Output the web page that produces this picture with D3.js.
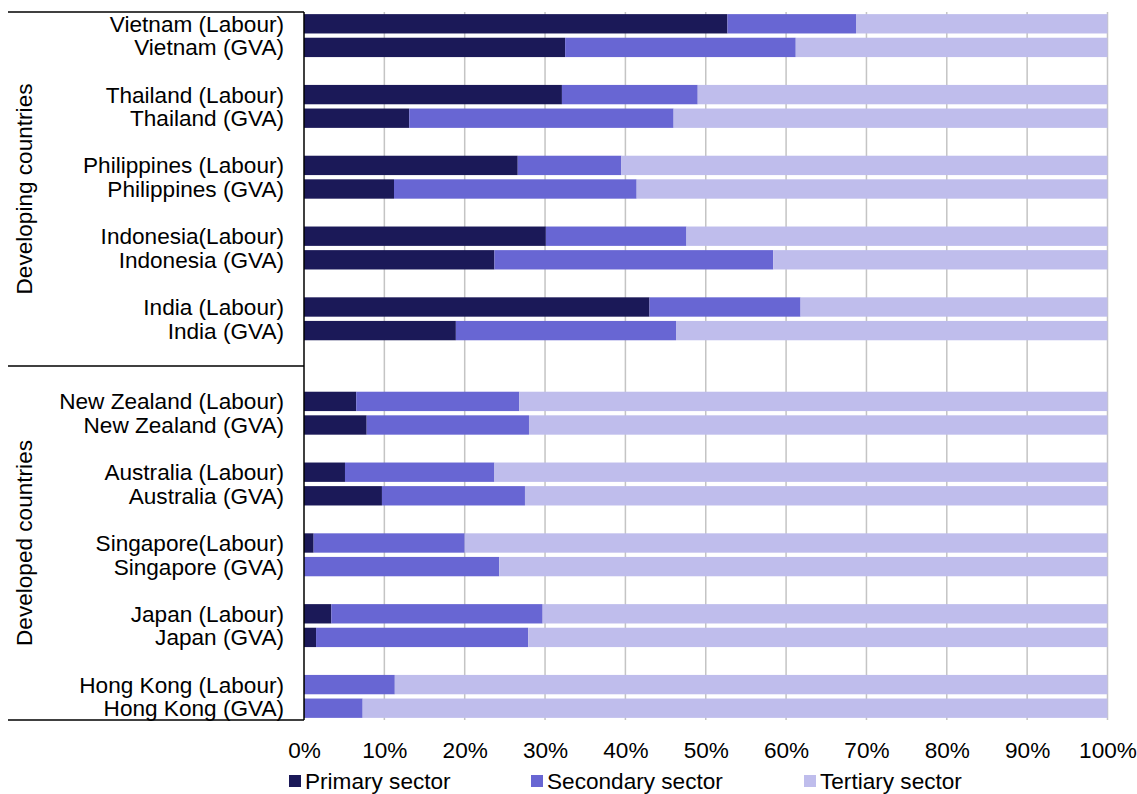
<!DOCTYPE html>
<html>
<head>
<meta charset="utf-8">
<script src="https://cdn.jsdelivr.net/npm/d3@7"></script>
<style>
  html, body { margin: 0; padding: 0; background: #fff; }
  svg { display: block; font-family: "Liberation Sans", Arial, sans-serif; }
</style>
</head>
<body>
<svg id="chart" width="1137" height="794"></svg>
<script>
// ---- data ----
const categories = [
  "Vietnam (Labour)", "Vietnam (GVA)",
  "Thailand (Labour)", "Thailand (GVA)",
  "Philippines (Labour)", "Philippines (GVA)",
  "Indonesia(Labour)", "Indonesia (GVA)",
  "India (Labour)", "India (GVA)",
  "New Zealand (Labour)", "New Zealand (GVA)",
  "Australia (Labour)", "Australia (GVA)",
  "Singapore(Labour)", "Singapore (GVA)",
  "Japan (Labour)", "Japan (GVA)",
  "Hong Kong (Labour)", "Hong Kong (GVA)"
];
const groups = ["Developing countries", "Developing countries", "Developing countries", "Developing countries", "Developing countries",
                "Developing countries", "Developing countries", "Developing countries", "Developing countries", "Developing countries",
                "Developed countries", "Developed countries", "Developed countries", "Developed countries", "Developed countries",
                "Developed countries", "Developed countries", "Developed countries", "Developed countries", "Developed countries"];
const groupNames = ["Developing countries", "Developed countries"];
const primary   = [52.7, 32.5, 32.1, 13.1, 26.6, 11.2, 30.1, 23.7, 43.0, 18.9,  6.5,  7.8,  5.1,  9.7,  1.2,  0.0,  3.4,  1.5,  0.1,  0.1];
const secondary = [16.0, 28.7, 16.9, 32.9, 12.9, 30.2, 17.5, 34.7, 18.8, 27.4, 20.3, 20.2, 18.6, 17.8, 18.8, 24.3, 26.3, 26.4, 11.2,  7.2];
const tertiary  = [31.3, 38.8, 51.0, 54.0, 60.5, 58.6, 52.4, 41.6, 38.2, 53.7, 73.2, 72.0, 76.3, 72.5, 80.0, 75.7, 70.3, 72.1, 88.7, 92.7];
const seriesNames = ["Primary sector", "Secondary sector", "Tertiary sector"];
const tickValues = [0, 10, 20, 30, 40, 50, 60, 70, 80, 90, 100];

// ---- layout ----
const colors = ["#1b1958", "#6866d3", "#bfbdec"];
const svg = d3.select("#chart");
const pLeft = 304, pRight = 1107.5, pTop = 12, pBottom = 720;
const fontSize = 22.6;

// slot domain: pairs separated by blank slots; two blanks between the groups
const slots = [];
categories.forEach((c, i) => {
  slots.push(c);
  if (i % 2 === 1 && i < categories.length - 1) {
    slots.push("gap" + i);
    if (groups[i] !== groups[i + 1]) slots.push("gap" + i + "b");
  }
});

const x = d3.scaleLinear().domain([0, 100]).range([pLeft, pRight]);
const y = d3.scaleBand().domain(slots).range([pTop, pBottom]).paddingInner(0.18).paddingOuter(0.09);
const gapHalf = (y.step() - y.bandwidth()) / 2;

// gridlines
svg.append("g").selectAll("line").data(tickValues.slice(1)).join("line")
  .attr("x1", d => x(d)).attr("x2", d => x(d))
  .attr("y1", pTop).attr("y2", pBottom)
  .attr("stroke", "#c4c4c4").attr("stroke-width", 1.5);

// stacked bars
const stackData = categories.map((c, i) => ({ c, p: primary[i], s: secondary[i], t: tertiary[i] }));
const stack = d3.stack().keys(["p", "s", "t"])(stackData);
svg.append("g").selectAll("g").data(stack).join("g")
  .attr("fill", (d, i) => colors[i])
  .selectAll("rect").data(d => d).join("rect")
  .attr("x", d => x(d[0]))
  .attr("width", d => Math.max(0, x(d[1]) - x(d[0])))
  .attr("y", d => y(d.data.c))
  .attr("height", y.bandwidth());

// vertical axis line
svg.append("line").attr("x1", pLeft).attr("x2", pLeft).attr("y1", pTop).attr("y2", pBottom)
  .attr("stroke", "#000").attr("stroke-width", 1.5);

// category labels
svg.append("g").selectAll("text").data(categories).join("text")
  .attr("x", pLeft - 20)
  .attr("y", d => y(d) + y.bandwidth() / 2)
  .attr("dy", "0.35em")
  .attr("text-anchor", "end")
  .attr("font-size", fontSize)
  .attr("fill", "#000")
  .text(d => d);

// group separators and labels
const lastIdx = groupNames.map(g => groups.lastIndexOf(g));
const boundaries = [pTop];
groupNames.forEach((g, gi) => {
  const lastSlot = slots.indexOf(categories[lastIdx[gi]]);
  if (gi < groupNames.length - 1) {
    boundaries.push(y(slots[lastSlot + 2]) - gapHalf);
  } else {
    boundaries.push(pBottom);
  }
});
svg.append("g").selectAll("line").data(boundaries).join("line")
  .attr("x1", 8).attr("x2", pLeft).attr("y1", d => d).attr("y2", d => d)
  .attr("stroke", "#000").attr("stroke-width", 1.5);
svg.append("g").selectAll("text").data(groupNames).join("text")
  .attr("transform", (d, i) => `translate(24,${(boundaries[i] + boundaries[i + 1]) / 2}) rotate(-90)`)
  .attr("text-anchor", "middle")
  .attr("dy", "0.35em")
  .attr("font-size", fontSize)
  .attr("fill", "#000")
  .text(d => d);

// x axis
const xAxis = d3.axisBottom(x).tickValues(tickValues).tickSize(0).tickPadding(0)
  .tickFormat(d => d + "%");
const gx = svg.append("g").attr("transform", `translate(0,${pBottom})`).call(xAxis);
gx.select(".domain").remove();
gx.selectAll("text").attr("font-size", fontSize).attr("fill", "#000")
  .attr("font-family", "Liberation Sans, Arial, sans-serif")
  .attr("y", 30).attr("dy", "0.35em");

// legend
const legendX = [289, 531, 804];
const lg = svg.append("g").selectAll("g").data(seriesNames).join("g")
  .attr("transform", (d, i) => `translate(${legendX[i]},781)`);
lg.append("rect").attr("x", 0).attr("y", -6).attr("width", 12).attr("height", 12)
  .attr("fill", (d, i) => colors[i]);
lg.append("text").attr("x", 16).attr("dy", "0.35em").attr("font-size", fontSize)
  .attr("fill", "#000").text(d => d);
</script>
</body>
</html>
